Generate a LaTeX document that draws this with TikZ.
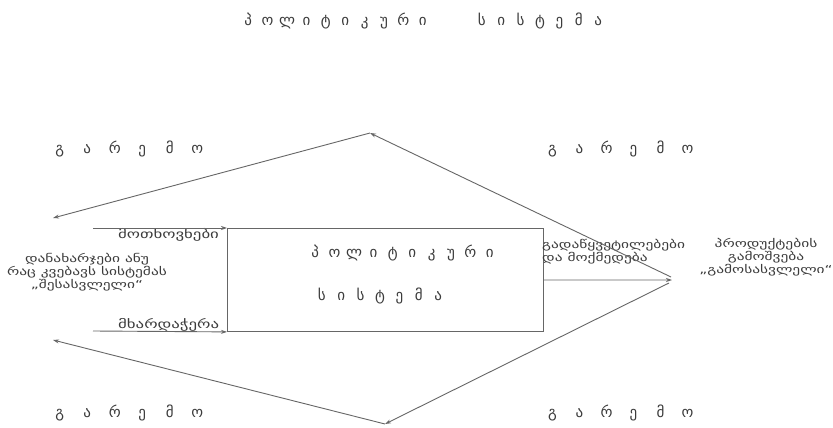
\documentclass[tikz,border=0pt]{standalone}
\usepackage{fontspec}
\setmainfont{DejaVu Sans}
\newfontfamily\geo{DejaVu Sans}
\newfontfamily\geow[FakeStretch=1.4]{DejaVu Sans}
\usetikzlibrary{arrows.meta}
\definecolor{ln}{HTML}{666666}
\definecolor{tx}{HTML}{3C3C3C}
\ExplSyntaxOn
\NewDocumentCommand\spread{mm}{\tl_map_inline:nn{#2}{\makebox[#1][c]{##1}}}
\ExplSyntaxOff
\tikzset{
  sp/.style={inner sep=0pt, text=tx, font=\geo\fontsize{15}{17}\selectfont},
  lab/.style={inner sep=0pt, text=tx, font=\geow\fontsize{12}{14}\selectfont},
  txt/.style={inner sep=0pt, text=tx, font=\geow\fontsize{11}{11}\selectfont},
  sysbox/.style={draw=ln, line width=0.9pt, inner sep=0pt},
  conn/.style={draw=ln, line width=0.9pt, -{Stealth[length=6pt,width=4pt]}},
  plain/.style={draw=ln, line width=0.9pt}
}
\begin{document}
\begin{tikzpicture}[x=1pt,y=-1pt]
\useasboundingbox[fill=white] (0,0) rectangle (833,428);
% title
\node[sp] (t1) at (335.5,21) {\spread{19.4pt}{პოლიტიკური}};
\node[sp] (t2) at (540,21) {\spread{19.4pt}{სისტემა}};
% environment labels
\node[sp] (e1) at (128.5,149) {\spread{27.5pt}{გარემო}};
\node[sp] (e2) at (620,149) {\spread{27pt}{გარემო}};
\node[sp] (e3) at (128.5,413) {\spread{27.5pt}{გარემო}};
\node[sp] (e4) at (620,413) {\spread{27pt}{გარემო}};
% system box
\node[sysbox, minimum width=316pt, minimum height=103pt, anchor=north west] (sys) at (227,228) {};
\node[sp] (s1) at (402.5,253) {\spread{19.4pt}{პოლიტიკური}};
\node[sp] (s2) at (380,296) {\spread{19.4pt}{სისტემა}};
% input labels
\node[lab, anchor=west] (dem) at (118,235) {მოთხოვნები};
\node[lab, anchor=west] (sup) at (118,325) {მხარდაჭერა};
\node[txt, align=center] (inp) at (87,272) {დანახარჯები ანუ\\რაც კვებავს სისტემას\\„შესასვლელი“};
% output labels
\node[txt, align=left, anchor=west] (dec) at (542,252) {გადაწყვეტილებები\\და მოქმედება};
\node[txt, align=center] (outp) at (766,257) {პროდუქტების\\გამოშვება\\„გამოსასვლელი“};
% coordinates
\coordinate (inT) at (93,228);
\coordinate (inB) at (93,331);
\coordinate (ptR) at (672,280);
\coordinate (ptRu) at (671,277);
\coordinate (ptRl) at (669,283);
\coordinate (apexT) at (370,133);
\coordinate (apexB) at (385,424);
\coordinate (tipTL) at (53,218);
\coordinate (tipBL) at (53,340);
% connectors
\draw[conn] (inT) -- (sys.north west);
\draw[conn] (inB) -- (sys.south west);
\draw[conn] (sys.east) -- (ptR);
\draw[conn] (ptRu) -- (apexT);
\draw[conn] (apexT) -- (tipTL);
\draw[conn] (ptRl) -- (apexB);
\draw[conn] (apexB) -- (tipBL);
\end{tikzpicture}
\end{document}
